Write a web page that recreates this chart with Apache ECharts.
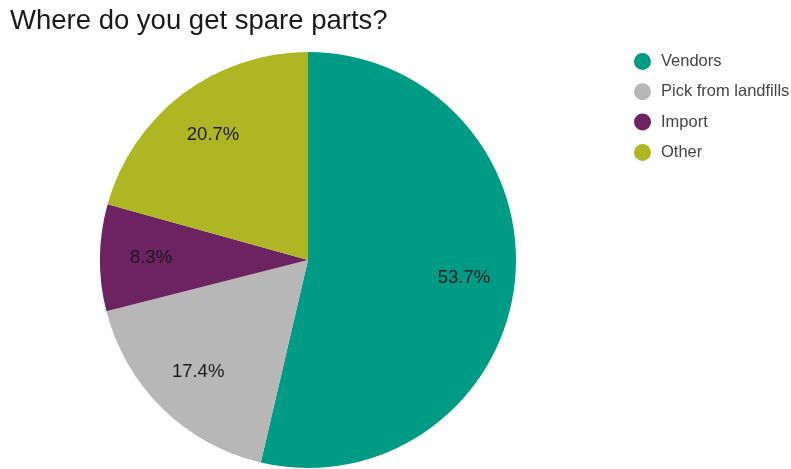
<!DOCTYPE html>
<html>
<head>
<meta charset="utf-8">
<script src="https://cdn.jsdelivr.net/npm/echarts@6/dist/echarts.min.js"></script>
<style>
  html, body { margin: 0; padding: 0; background: #fff; }
  #chart { width: 791px; height: 469px; }
</style>
</head>
<body>
<div id="chart"></div>
<script>
// Sources of spare parts (share of respondents, %)
const categories = ['Vendors', 'Pick from landfills', 'Import', 'Other'];
const shares = [53.7, 17.4, 8.3, 20.7];
const palette = ['#009b85', '#b7b7b7', '#6d2262', '#afb624'];

const FONT = '"Liberation Sans", Arial, sans-serif';

const pieData = categories.map((name, i) => ({
  name,
  value: shares[i],
  itemStyle: { color: palette[i] }
}));

const chart = echarts.init(document.getElementById('chart'), null, { renderer: 'canvas' });

chart.setOption({
  animation: false,
  backgroundColor: '#ffffff',
  title: {
    text: 'Where do you get spare parts?',
    left: 5,
    top: 2,
    textStyle: { fontFamily: FONT, fontSize: 27.5, fontWeight: 'normal', color: '#1a1a1a' }
  },
  legend: {
    orient: 'vertical',
    left: 629,
    top: 48,
    icon: 'circle',
    itemWidth: 17,
    itemHeight: 17,
    itemGap: 13.3,
    data: categories.map((name, i) => ({ name, itemStyle: { color: palette[i] } })),
    textStyle: { fontFamily: FONT, fontSize: 16.5, color: '#444444', padding: [0, 0, 0, 5] }
  },
  series: [
    {
      // filled wedges
      type: 'pie',
      center: [308, 260],
      radius: [0, 208],
      startAngle: 90,
      clockwise: true,
      label: { show: false },
      labelLine: { show: false },
      emphasis: { disabled: true },
      itemStyle: { borderWidth: 0 },
      data: pieData
    },
    {
      // percentage labels placed three quarters of the way out
      type: 'pie',
      center: [308, 260],
      radius: [100, 208],
      startAngle: 90,
      clockwise: true,
      silent: true,
      legendHoverLink: false,
      itemStyle: { color: 'rgba(0,0,0,0)', borderWidth: 0 },
      emphasis: { disabled: true },
      labelLine: { show: false },
      label: {
        show: true,
        position: 'inside',
        formatter: p => p.value.toFixed(1) + '%',
        fontFamily: FONT,
        fontSize: 18.5,
        color: '#1a1a1a'
      },
      data: categories.map((name, i) => ({ name, value: shares[i] }))
    }
  ]
});
</script>
</body>
</html>
